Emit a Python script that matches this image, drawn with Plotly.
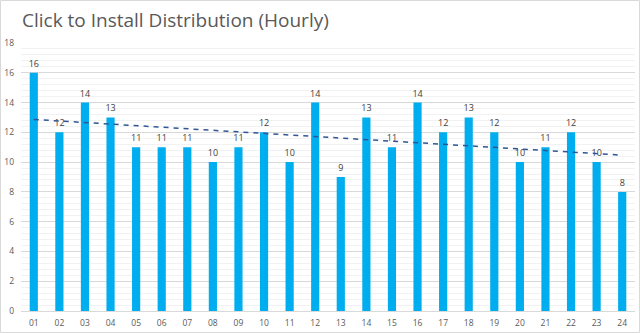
import numpy as np
import plotly.graph_objects as go

hours = ["01","02","03","04","05","06","07","08","09","10","11","12",
         "13","14","15","16","17","18","19","20","21","22","23","24"]
installs = [16,12,14,13,11,11,11,10,11,12,10,14,9,13,11,14,12,13,12,10,11,12,10,8]
y_ticks = [0,2,4,6,8,10,12,14,16,18]
title_text = "Click to Install Distribution (Hourly)"

# linear trendline (least squares, like the spreadsheet trendline)
xi = np.arange(1, len(installs) + 1)
slope, intercept = np.polyfit(xi, installs, 1)
trend = [slope * v + intercept for v in xi]

W, H = 640, 333
L, R, T, B = 21, 5, 43, 22

fig = go.Figure()
fig.add_trace(go.Bar(
    x=hours, y=installs,
    marker=dict(color="#00AEEF", line=dict(width=0)),
    text=[str(v) for v in installs], textposition="outside",
    textfont=dict(size=9, color="#404040", family="Open Sans"),
    constraintext="none", textangle=0,
    cliponaxis=False, width=0.32,
))
fig.add_trace(go.Scatter(
    x=hours, y=trend, mode="lines",
    line=dict(color="#2F5597", width=1.5, dash="5px,5px"),
    hoverinfo="skip",
))

# page border
fig.add_shape(type="rect", xref="paper", yref="paper",
              x0=-(L - 0.5) / (W - L - R), x1=1 + (R - 0.5) / (W - L - R),
              y0=-(B - 0.5) / (H - T - B), y1=1 + (T - 0.5) / (H - T - B),
              line=dict(color="#D9D9D9", width=1), layer="below")

fig.update_layout(
    width=W, height=H,
    margin=dict(l=L, r=R, t=T, b=B, pad=0),
    paper_bgcolor="white", plot_bgcolor="white",
    showlegend=False,
    title=dict(text=title_text, x=22 / W, xanchor="left", y=1 - 20 / H, yanchor="middle",
               font=dict(family="Open Sans", size=19, color="#595959")),
    xaxis=dict(
        type="category", showgrid=False, zeroline=False,
        showline=True, linecolor="#D9D9D9", linewidth=1,
        tickfont=dict(family="Open Sans", size=8.5, color="#595959"),
        ticks="", ticklabelstandoff=4,
    ),
    yaxis=dict(
        range=[0, 18], tickvals=y_ticks, showgrid=True,
        gridcolor="#D9D9D9", gridwidth=1, zeroline=False,
        tickfont=dict(family="Open Sans", size=8.5, color="#595959"),
        ticks="", ticklabelstandoff=6,
        minor=dict(dtick=0.4, showgrid=True, gridcolor="#F2F2F2", gridwidth=1),
    ),
)

fig.write_html("out.html")
